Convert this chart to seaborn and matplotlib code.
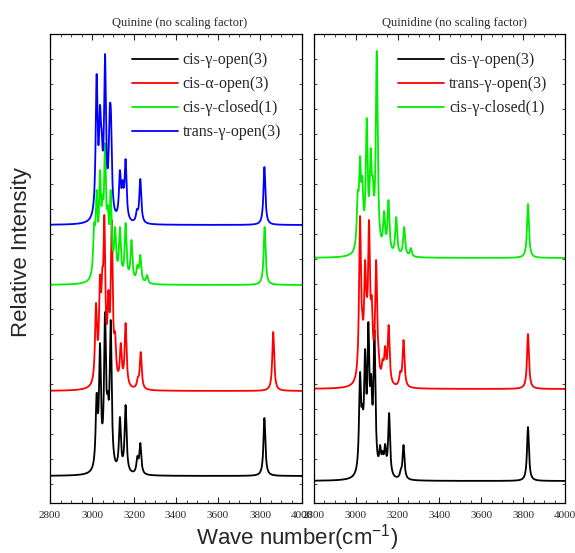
import matplotlib
import numpy as np
import pandas as pd

matplotlib.use("Agg")
import matplotlib.pyplot as plt
import seaborn as sns
from matplotlib.ticker import MultipleLocator, FixedLocator

sns.set_theme(style="ticks")
plt.rcParams["font.family"] = ["Liberation Serif", "DejaVu Serif"]

# Peak tops: wavenumber and height above each trace's baseline
quinine_labels = ["cis-γ-open(3)", "cis-α-open(3)", "cis-γ-closed(1)", "trans-γ-open(3)"]
quinine_colors = ["black", "red", "#00ee00", "blue"]
quinine_offsets = [27, 112, 218, 278]
quinine_centers = [
    [3022, 3038, 3062, 3075, 3089, 3102, 3133, 3160, 3216, 3230, 3821],
    [3019, 3038, 3049, 3059, 3078, 3094, 3110, 3137, 3160, 3218, 3232, 3863],
    [3010, 3022, 3038, 3050, 3062, 3075, 3089, 3110, 3133, 3160, 3188, 3216, 3230, 3262, 3822],
    [3022, 3038, 3046, 3062, 3084, 3090, 3133, 3146, 3160, 3214, 3230, 3821],
]
quinine_heights = [
    [83, 133, 164, 85, 156, 26, 59, 71, 20, 33, 58],
    [88, 116, 123, 176, 101, 171, 59, 48, 68, 14, 39, 59],
    [62, 95, 115, 90, 142, 80, 95, 58, 58, 62, 45, 20, 30, 10, 58],
    [151, 120, 95, 171, 118, 115, 55, 45, 66, 16, 46, 58],
]

quinidine_labels = ["cis-γ-open(3)", "trans-γ-open(3)", "cis-γ-closed(1)"]
quinidine_colors = ["black", "red", "#00ee00"]
quinidine_offsets = [22, 114, 245]
quinidine_centers = [
    [3020, 3031, 3044, 3060, 3073, 3089, 3116, 3128, 3140, 3159, 3215, 3228, 3823],
    [3020, 3031, 3044, 3052, 3063, 3076, 3097, 3108, 3128, 3140, 3157, 3212, 3228, 3823],
    [3009, 3020, 3031, 3052, 3071, 3081, 3100, 3135, 3156, 3193, 3231, 3263, 3823],
]
quinidine_heights = [
    [109, 77, 132, 159, 107, 151, 36, 30, 37, 68, 12, 36, 54],
    [173, 76, 129, 93, 169, 93, 129, 43, 30, 43, 64, 18, 49, 55],
    [67, 102, 82, 140, 110, 82, 207, 47, 58, 41, 31, 10, 54],
]

HWHM = 5.5
wn = np.linspace(2800, 4000, 2401)


def lorentz(x, c):
    return HWHM**2 / ((x - c) ** 2 + HWHM**2)


def spectrum(centers, tops):
    # pick stick heights so the broadened trace reaches the read peak tops
    c = np.array(centers, float)
    obs = np.array(tops, float)
    A = lorentz(c[:, None], c[None, :])
    h = obs.copy()
    for _ in range(400):
        h = np.clip(h + 0.5 * (obs - A @ h), 0, None)
    return (h[None, :] * lorentz(wn[:, None], c[None, :])).sum(axis=1)


def draw_panel(ax, labels, colors, offsets, centers, heights, title, title_x, leg_x):
    for lab, col, off, c, h in zip(labels, colors, offsets, centers, heights):
        df = pd.DataFrame({"wn": wn, "I": spectrum(c, h) + off})
        sns.lineplot(data=df, x="wn", y="I", ax=ax, color=col, lw=1.3, label=lab)

    ax.set_xlim(2800, 4000)
    ax.set_ylim(0, 469)
    ax.xaxis.set_major_locator(MultipleLocator(200))
    ax.xaxis.set_minor_locator(MultipleLocator(50))
    ax.yaxis.set_major_locator(FixedLocator(np.arange(19, 470, 25)))
    ax.set_yticklabels([])
    ax.set_xlabel("")
    ax.set_ylabel("")
    ax.tick_params(axis="x", which="major", direction="in", length=4, width=0.8,
                   top=True, labelsize=8, pad=6)
    ax.tick_params(axis="x", which="minor", direction="in", length=2.5, width=0.6, top=True)
    ax.tick_params(axis="y", which="major", direction="in", length=2.5, width=0.6, right=True)
    for s in ax.spines.values():
        s.set_linewidth(0.9)
        s.set_color("black")
    ax.text(title_x, 1.01, title, transform=ax.transAxes, ha="center", va="bottom", fontsize=9)

    leg = ax.legend(loc="upper left", bbox_to_anchor=(leg_x, 0.985), frameon=False,
                    fontsize=11.5, handlelength=2.9, labelspacing=0.5,
                    handletextpad=0.3, borderpad=0.2)
    for line in leg.get_lines():
        line.set_linewidth(1.3)


fig = plt.figure(figsize=(5.75, 5.53), dpi=100)
ax1 = fig.add_axes([50 / 575, 50 / 553, 252 / 575, 469 / 553])
ax2 = fig.add_axes([314 / 575, 50 / 553, 251 / 575, 469 / 553])

draw_panel(ax1, quinine_labels, quinine_colors, quinine_offsets, quinine_centers,
           quinine_heights, "Quinine (no scaling factor)", 0.516, 0.28)
draw_panel(ax2, quinidine_labels, quinidine_colors, quinidine_offsets, quinidine_centers,
           quinidine_heights, "Quinidine (no scaling factor)", 0.56, 0.29)

fig.text(297 / 575, 15 / 553, "Wave number(cm$^{\\mathregular{-1}}$)", ha="center", va="center",
         fontsize=16, family="Liberation Sans")
fig.text(22 / 575, 301 / 553, "Relative Intensity", ha="center", va="center",
         rotation=90, fontsize=16, family="Liberation Sans")

fig.savefig("out.png", dpi=100)
